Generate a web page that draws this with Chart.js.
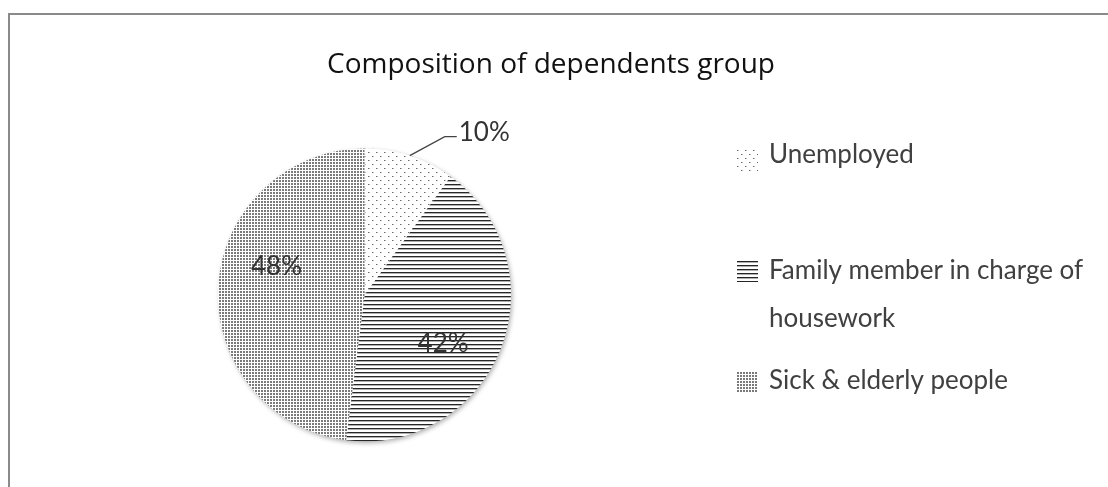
<!DOCTYPE html>
<html>
  <head>
    <title>Composition of dependents group</title>
    <script src="https://cdn.jsdelivr.net/npm/chart.js"></script>
    <style>
      body {
        margin: 0;
        background: #fff;
        overflow: hidden;
      }
      .frame {
        position: absolute;
        left: 8px;
        top: 13px;
        width: 1300px;
        height: 700px;
        border-left: 2px solid #8a8a8a;
        border-top: 2px solid #8a8a8a;
      }
      #pieChart {
        position: absolute;
        left: 0;
        top: 0;
      }
    </style>
  </head>
  <body>
    <div class="frame"></div>
    <canvas id="pieChart" width="1108" height="487"></canvas>

    <script>
      const title = "Composition of dependents group";
      const categories = ["Unemployed", "Family member in charge of housework", "Sick & elderly people"];
      const legendLines = [["Unemployed"], ["Family member in charge of", "housework"], ["Sick & elderly people"]];
      const shares = [10, 42, 48];

      // hatch fills like the Excel original
      function makePattern(w, h, draw) {
        const c = document.createElement("canvas");
        c.width = w;
        c.height = h;
        const g = c.getContext("2d");
        g.fillStyle = "#fff";
        g.fillRect(0, 0, w, h);
        draw(g);
        return c.getContext("2d").createPattern(c, "repeat");
      }

      const dots = makePattern(8, 8, (g) => {
        g.fillStyle = "#666";
        g.fillRect(0, 0, 1, 1);
        g.fillRect(4, 4, 1, 1);
        g.fillStyle = "#bbb";
        g.fillRect(1, 0, 1, 1);
        g.fillRect(5, 4, 1, 1);
      });
      const lines = makePattern(4, 4, (g) => {
        g.fillStyle = "#262626";
        g.fillRect(0, 0, 4, 1);
        g.fillStyle = "#b0b0b0";
        g.fillRect(0, 1, 4, 1);
      });
      const grid = makePattern(3, 3, (g) => {
        g.fillStyle = "#7a7a7a";
        g.fillRect(0, 0, 2, 2);
      });
      const fills = [dots, lines, grid];

      // label placement: angle shift (deg) and radius fraction, outside flag
      const labelStyle = [
        { shift: 0, r: 1, outside: true },
        { shift: 10, r: 0.63 },
        { shift: 14, r: 0.63 },
      ];

      // soft shadow under the pie
      const pieShadow = {
        id: "pieShadow",
        beforeDatasetsDraw(chart) {
          const arc = chart.getDatasetMeta(0).data[0];
          if (!arc) return;
          const p = arc.getProps(["x", "y", "outerRadius"], true);
          const ctx = chart.ctx;
          ctx.save();
          ctx.shadowColor = "rgba(0,0,0,0.35)";
          ctx.shadowBlur = 5;
          ctx.shadowOffsetX = 1.5;
          ctx.shadowOffsetY = 2;
          ctx.fillStyle = "#fff";
          ctx.beginPath();
          ctx.arc(p.x, p.y, p.outerRadius - 0.5, 0, Math.PI * 2);
          ctx.fill();
          ctx.restore();
        },
      };

      const decorations = {
        id: "decorations",
        afterDraw(chart) {
          const ctx = chart.ctx;
          const meta = chart.getDatasetMeta(0);
          ctx.save();

          // title
          ctx.fillStyle = "#111";
          ctx.font = "28px 'Open Sans'";
          ctx.textAlign = "center";
          ctx.textBaseline = "alphabetic";
          ctx.fillText(title, chart.width / 2 - 3, 73);

          // slice labels
          ctx.font = "26px Lato";
          ctx.fillStyle = "#333";
          meta.data.forEach((arc, i) => {
            const p = arc.getProps(["x", "y", "startAngle", "endAngle", "outerRadius"], true);
            const st = labelStyle[i];
            const a = (p.startAngle + p.endAngle) / 2 + (st.shift * Math.PI) / 180;
            const text = shares[i] + "%";
            if (st.outside) {
              const x0 = p.x + Math.cos(a) * p.outerRadius;
              const y0 = p.y + Math.sin(a) * p.outerRadius;
              const x1 = x0 + 35;
              const y1 = y0 - 19;
              ctx.strokeStyle = "#444";
              ctx.lineWidth = 1.3;
              ctx.beginPath();
              ctx.moveTo(x0, y0);
              ctx.lineTo(x1, y1);
              ctx.lineTo(x1 + 12, y1);
              ctx.stroke();
              ctx.textAlign = "left";
              ctx.textBaseline = "alphabetic";
              ctx.fillText(text, x1 + 14, y1 + 4);
            } else {
              const r = p.outerRadius * st.r;
              ctx.textAlign = "center";
              ctx.textBaseline = "middle";
              ctx.fillText(text, p.x + Math.cos(a) * r, p.y + Math.sin(a) * r);
            }
          });

          // legend
          const lx = 737;
          const swatchMid = [160, 271, 382];
          const baselines = [[163], [279, 327], [389]];
          ctx.font = "26px Lato";
          ctx.fillStyle = "#404040";
          ctx.textAlign = "left";
          ctx.textBaseline = "alphabetic";
          legendLines.forEach((ls, i) => {
            ctx.save();
            ctx.fillStyle = fills[i];
            ctx.translate(lx, swatchMid[i] - 10);
            ctx.fillRect(0, 0, 21, 21);
            ctx.restore();
            ls.forEach((t, k) => {
              ctx.fillText(t, lx + 32, baselines[i][k]);
            });
          });
          ctx.restore();
        },
      };

      new Chart(document.getElementById("pieChart"), {
        type: "pie",
        data: {
          labels: categories,
          datasets: [
            {
              data: shares,
              backgroundColor: fills,
              borderWidth: 0,
            },
          ],
        },
        options: {
          responsive: false,
          animation: false,
          layout: {
            padding: { left: 218, right: 597, top: 148.5, bottom: 45.5 },
          },
          plugins: {
            legend: { display: false },
            tooltip: { enabled: false },
          },
        },
        plugins: [pieShadow, decorations],
      });
    </script>
  </body>
</html>
